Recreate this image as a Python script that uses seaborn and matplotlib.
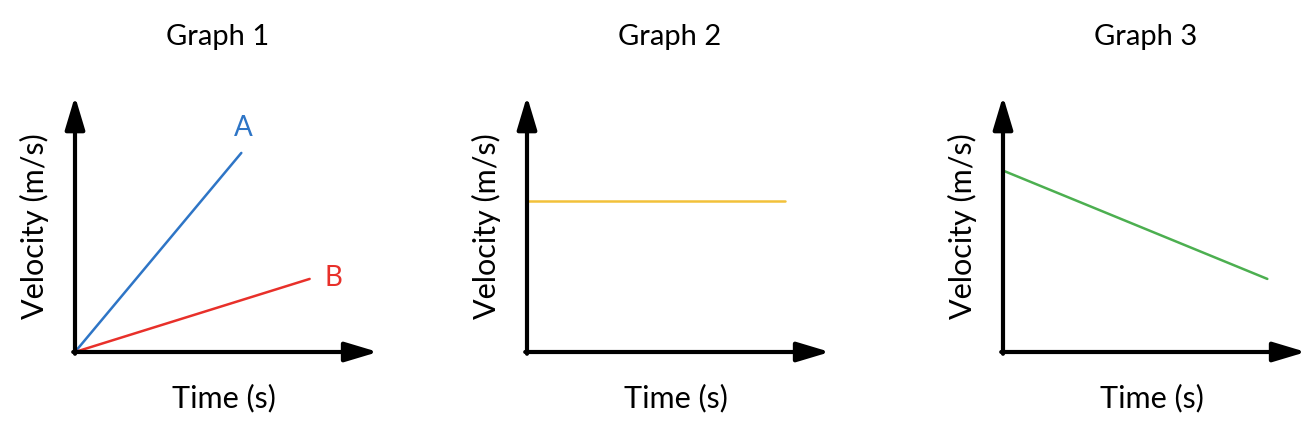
import matplotlib
matplotlib.use('Agg')
import matplotlib.pyplot as plt
import seaborn as sns
import pandas as pd

# data (arbitrary units, axes run 0-10)
time_a = [0, 5.6]
vel_a = [0, 7.9]
time_b = [0, 7.9]
vel_b = [0, 2.9]
time_2 = [0, 8.7]
vel_2 = [6.0, 6.0]
time_3 = [0, 8.9]
vel_3 = [7.2, 2.9]

titles = ['Graph 1', 'Graph 2', 'Graph 3']
x_label = 'Time (s)'
y_label = 'Velocity (m/s)'

blue = '#2E75C6'
red = '#E8302A'
yellow = '#F2C13A'
green = '#4CAF50'

sns.set_style('white')
plt.rcParams['font.family'] = ['Lato', 'DejaVu Sans']
plt.rcParams['text.color'] = 'black'

W, H = 1312, 428
fig = plt.figure(figsize=(W / 100, H / 100), dpi=100)

lefts = [75, 527, 1003]
axes = []
for left in lefts:
    ax = fig.add_axes([left / W, (H - 352) / H, 297 / W, 252 / H])
    ax.set_xlim(0, 10)
    ax.set_ylim(0, 10)
    for s in ax.spines.values():
        s.set_visible(False)
    ax.set_xticks([])
    ax.set_yticks([])
    ax.patch.set_alpha(0)
    axes.append(ax)

df_a = pd.DataFrame({'t': time_a, 'v': vel_a})
df_b = pd.DataFrame({'t': time_b, 'v': vel_b})
df_2 = pd.DataFrame({'t': time_2, 'v': vel_2})
df_3 = pd.DataFrame({'t': time_3, 'v': vel_3})

sns.lineplot(data=df_a, x='t', y='v', ax=axes[0], color=blue, lw=1.8)
sns.lineplot(data=df_b, x='t', y='v', ax=axes[0], color=red, lw=1.8)
sns.lineplot(data=df_2, x='t', y='v', ax=axes[1], color=yellow, lw=1.8)
sns.lineplot(data=df_3, x='t', y='v', ax=axes[2], color=green, lw=1.8)

axes[0].text(time_a[1] + 0.05, vel_a[1] + 1.0, 'A', color=blue, fontsize=20, ha='center', va='center')
axes[0].text(time_b[1] + 0.8, vel_b[1] + 0.05, 'B', color=red, fontsize=20, ha='center', va='center')

for ax, title in zip(axes, titles):
    ax.set_xlabel('')
    ax.set_ylabel('')
    # axis arrows
    arrow = dict(arrowstyle='-|>,head_length=1.0,head_width=0.3', lw=3, color='black',
                 mutation_scale=20, shrinkA=0, shrinkB=0)
    ax.annotate('', xy=(1.02, 0), xytext=(-0.006, 0), xycoords='axes fraction', arrowprops=arrow)
    ax.annotate('', xy=(0, 1.015), xytext=(0, -0.007), xycoords='axes fraction', arrowprops=arrow)
    ax.text(0.48, 1.25, title, transform=ax.transAxes, ha='center', va='center', fontsize=21)
    ax.text(0.5, -0.183, x_label, transform=ax.transAxes, ha='center', va='center', fontsize=22)
    ax.text(-0.135, 0.5, y_label, transform=ax.transAxes, ha='center', va='center',
            fontsize=22, rotation=90)

fig.savefig('out.png', dpi=100)
